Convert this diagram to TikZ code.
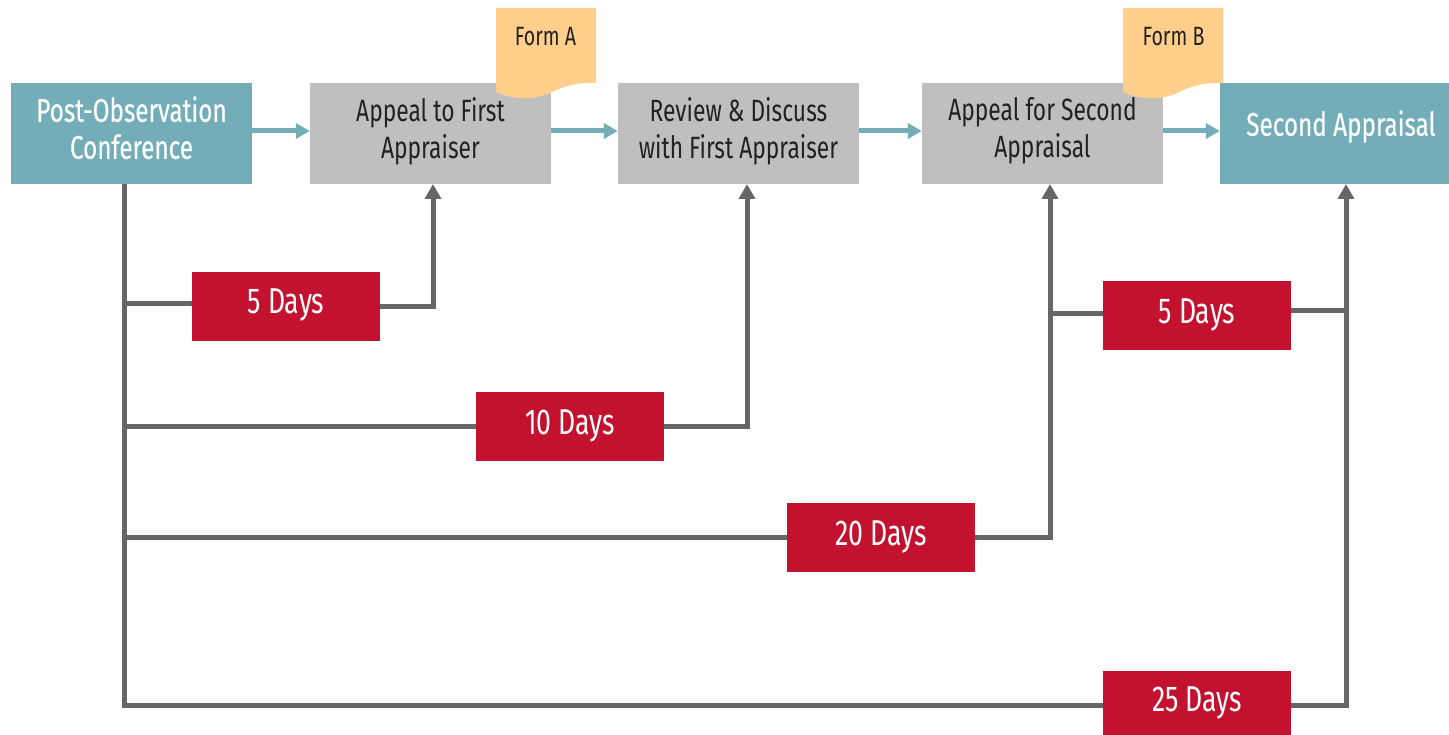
\documentclass[tikz,border=0pt]{standalone}
\usepackage{fontspec}
\setmainfont[FakeStretch=0.74]{Fira Sans}
\newfontfamily\tealfont[FakeStretch=0.74,FakeBold=0.25]{Fira Sans}
\usetikzlibrary{arrows.meta}
\definecolor{teal1}{HTML}{72ADB8}
\definecolor{gray1}{HTML}{BFBFBF}
\definecolor{gray2}{HTML}{666666}
\definecolor{red1}{HTML}{C2122F}
\definecolor{form1}{HTML}{FFCF8B}
\definecolor{ink1}{HTML}{222222}
\tikzset{
  box/.style={rectangle,inner sep=0pt,minimum width=241pt,minimum height=101pt,align=center},
  greybox/.style={box,fill=gray1,text=ink1,font=\fontsize{30.8}{37}\selectfont},
  tealbox/.style={box,fill=teal1,text=white,font=\tealfont\fontsize{32.8}{37}\selectfont},
  daysbox/.style={rectangle,inner sep=0pt,minimum width=188pt,minimum height=69pt,fill=red1,text=white,
    align=center,font=\fontsize{36}{37}\selectfont},
  formtext/.style={inner sep=0pt,text=ink1,font=\fontsize{26.5}{25}\selectfont},
  formshape/.style={fill=form1},
  flow/.style={draw=teal1,line width=5pt,-{Triangle[length=14pt,width=15pt]}},
  link/.style={draw=gray2,line width=5pt},
  linkarrow/.style={link,-{Triangle[length=15pt,width=16pt]}},
}
\begin{document}
\begin{tikzpicture}[x=1pt,y=-1pt]
\useasboundingbox (0,0) rectangle (1449,735);
% process boxes
\node[tealbox] (post) at (131.5,133.5) {Post-Observation\\Conference\\[-25pt]};
\node[greybox] (first) at (430.5,133.5) {Appeal to First\\Appraiser\\[-25pt]};
\node[greybox] (review) at (738.5,133.5) {Review \& Discuss\\with First Appraiser\\[-25pt]};
\node[greybox] (second) at (1042.5,133.5) {Appeal for Second\\Appraisal\\[-25pt]};
\node[tealbox,minimum width=229pt] (final) at (1334.5,133.5) {\hspace*{13pt}Second Appraisal\\[-16pt]};
% day boxes
\node[daysbox] (d5a) at (286,306.5) {5 Days\\[-26pt]};
\node[daysbox] (d10) at (570,426.5) {10 Days\\[-28pt]};
\node[daysbox] (d20) at (881,537.5) {20 Days\\[-28pt]};
\node[daysbox] (d5b) at (1197,315.5) {5 Days\\[-28pt]};
\node[daysbox,minimum height=64pt] (d25) at (1197,703) {25 Days\\[-30pt]};
% junction coordinates
\coordinate (trunk) at (124,705);
\coordinate (ta) at (433,184);
\coordinate (tb) at (747,184);
\coordinate (tc) at (1050,184);
\coordinate (td) at (1346,184);
\coordinate (ja) at (124,304);
\coordinate (jb) at (124,426);
\coordinate (jc) at (124,537);
\coordinate (ra) at (433,307);
\coordinate (rb) at (747,426);
\coordinate (rc) at (1050,537);
\coordinate (rd) at (1346,705);
\coordinate (le) at (1050,314);
\coordinate (re) at (1346,311);
% gray links
\draw[link] (trunk |- post.south) -- (trunk) -- (trunk -| d25.west);
\draw[link] (ja) -- (ja -| d5a.west);
\draw[link] (jb) -- (jb -| d10.west);
\draw[link] (jc) -- (jc -| d20.west);
\draw[linkarrow] (ra -| d5a.east) -- (ra) -- (ta);
\draw[linkarrow] (rb -| d10.east) -- (rb) -- (tb);
\draw[linkarrow] (rc -| d20.east) -- (rc) -- (tc);
\draw[linkarrow] (rd -| d25.east) -- (rd) -- (td);
\draw[link] (le) -- (le -| d5b.west);
\draw[link] (re -| d5b.east) -- (re);
% flow arrows
\draw[flow] ([yshift=2.5pt]post.east) -- ([yshift=2.5pt]first.west);
\draw[flow] ([yshift=2.5pt]first.east) -- ([yshift=2.5pt]review.west);
\draw[flow] ([yshift=2.5pt]review.east) -- ([yshift=2.5pt]second.west);
\draw[flow] ([yshift=2.5pt]second.east) -- ([yshift=2.5pt]final.west);
% forms
\fill[formshape] (496,8) -- (596,8) -- (596,83) .. controls (582,82) and (568,85) .. (556,90)
  .. controls (540,100) and (515,101) .. (496,92) -- cycle;
\fill[formshape] (1123,8) -- (1223,8) -- (1223,83) .. controls (1209,82) and (1195,85) .. (1183,90)
  .. controls (1167,100) and (1142,101) .. (1123,92) -- cycle;
\node[formtext] (forma) at (545.5,37) {Form A};
\node[formtext] (formb) at (1173.5,37) {Form B};
\end{tikzpicture}
\end{document}
